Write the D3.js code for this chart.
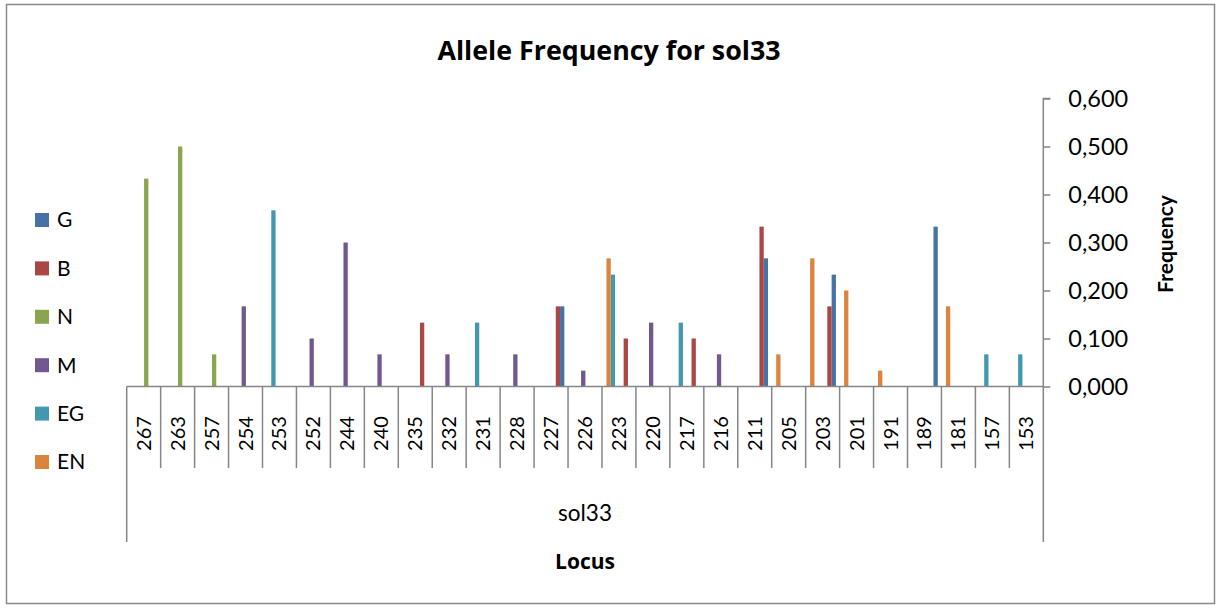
<!DOCTYPE html>
<html>
<head>
<meta charset="utf-8">
<script src="https://cdn.jsdelivr.net/npm/d3@7"></script>
<style>
  html, body { margin: 0; padding: 0; background: #fff; }
  svg { display: block; font-family: "Lato", "Open Sans", sans-serif; }
</style>
</head>
<body>
<svg id="chart" width="1222" height="608"></svg>
<script>
// Allele sizes at the sol33 locus, in the order they appear along the axis
const alleles = ["267","263","257","254","253","252","244","240","235","232","231","228","227",
                 "226","223","220","217","216","211","205","203","201","191","189","181","157","153"];

// Population names (legend order)
const populations = ["G", "B", "N", "M", "EG", "EN"];

// Frequency per allele for each population
const freqG  = [0,0,0,0,0,0,0,0,0,0,0,0,0.167,0,0,0,0,0,0.267,0,0.233,0,0,0.333,0,0,0];
const freqB  = [0,0,0,0,0,0,0,0,0.133,0,0,0,0.167,0,0.100,0,0.100,0,0.333,0,0.167,0,0,0,0,0,0];
const freqN  = [0.433,0.500,0.067,0,0,0,0,0,0,0,0,0,0,0,0,0,0,0,0,0,0,0,0,0,0,0,0];
const freqM  = [0,0,0,0.167,0,0.100,0.300,0.067,0,0.067,0,0.067,0,0.033,0,0.133,0,0.067,0,0,0,0,0,0,0,0,0];
const freqEG = [0,0,0,0,0.367,0,0,0,0,0,0.133,0,0,0,0.233,0,0.133,0,0,0,0,0,0,0,0,0.067,0.067];
const freqEN = [0,0,0,0,0,0,0,0,0,0,0,0,0,0,0.267,0,0,0,0,0.067,0.267,0.200,0.033,0,0.167,0,0];

// Frequency axis ticks
const yTicks = [0, 0.1, 0.2, 0.3, 0.4, 0.5, 0.6];

const seriesValues = { G: freqG, B: freqB, N: freqN, M: freqM, EG: freqEG, EN: freqEN };
const colors = { G: "#4672A8", B: "#AA4643", N: "#89A54E", M: "#71588F", EG: "#4198AF", EN: "#DB843D" };

const svg = d3.select("#chart");
const axisColor = "#868686";

// Outer chart frame
svg.append("rect")
  .attr("x", 6.5).attr("y", 4.5).attr("width", 1208).attr("height", 599)
  .attr("fill", "#fff").attr("stroke", "#8a8a8a").attr("stroke-width", 1.5);

// Plot geometry
const plotLeft = 126.7, plotRight = 1043.3, plotTop = 98.5, plotBottom = 386.5;

const x = d3.scaleBand().domain(alleles).range([plotLeft, plotRight]).paddingInner(0).paddingOuter(0);
const y = d3.scaleLinear().domain([0, 0.6]).range([plotBottom, plotTop]);

// Bars inside each group are laid out with the last series on the left
const slot = d3.scaleBand()
  .domain(populations.slice().reverse())
  .range([0, x.bandwidth()])
  .paddingInner(0)
  .paddingOuter(0.95);

// Bars
const records = [];
populations.forEach(p => {
  seriesValues[p].forEach((v, i) => {
    if (v > 0) records.push({ pop: p, allele: alleles[i], value: v });
  });
});

svg.append("g").selectAll("rect")
  .data(records)
  .join("rect")
  .attr("x", d => x(d.allele) + slot(d.pop) + 0.4)
  .attr("width", slot.bandwidth())
  .attr("y", d => y(d.value))
  .attr("height", d => y(0) - y(d.value))
  .attr("fill", d => colors[d.pop]);

// Right-hand frequency axis
const locale = d3.formatLocale({ decimal: ",", thousands: ".", grouping: [3], currency: ["", ""] });
const fmt = locale.format(".3f");

const yAxis = svg.append("g")
  .attr("transform", `translate(${plotRight},0)`)
  .call(d3.axisRight(y).tickValues(yTicks).tickFormat(fmt).tickSize(7).tickPadding(18));
yAxis.select(".domain").attr("stroke", axisColor).attr("stroke-width", 1.5)
  .attr("d", `M7,${plotTop}H0V${plotBottom}`);
yAxis.selectAll(".tick line").attr("stroke", axisColor).attr("stroke-width", 1.5);
yAxis.selectAll(".tick text")
  .attr("fill", "#000").attr("font-size", 23.5).attr("font-family", "Lato, sans-serif");

// Category axis: baseline, dividers and group box
const catAxis = svg.append("g");
catAxis.append("line")
  .attr("x1", plotLeft).attr("x2", plotRight).attr("y1", plotBottom).attr("y2", plotBottom)
  .attr("stroke", axisColor).attr("stroke-width", 1.5);

const boundaries = alleles.map(a => x(a)).concat([x(alleles[alleles.length - 1]) + x.bandwidth()]);
catAxis.selectAll("line.div")
  .data(boundaries)
  .join("line")
  .attr("class", "div")
  .attr("x1", d => d).attr("x2", d => d)
  .attr("y1", plotBottom)
  .attr("y2", (d, i) => (i === 0 || i === boundaries.length - 1) ? 542 : 468)
  .attr("stroke", axisColor).attr("stroke-width", 1.5);

// Allele labels, rotated
catAxis.selectAll("text.allele")
  .data(alleles)
  .join("text")
  .attr("class", "allele")
  .attr("transform", d => `translate(${x(d) + x.bandwidth() / 2},433.5) rotate(-90)`)
  .attr("text-anchor", "middle")
  .attr("dy", "0.35em")
  .attr("font-size", 20)
  .attr("fill", "#000")
  .text(d => d);

// Locus group label
svg.append("text")
  .attr("x", 585).attr("y", 513)
  .attr("text-anchor", "middle").attr("dy", "0.35em")
  .attr("font-size", 22.5).attr("fill", "#000")
  .text("sol33");

// Axis titles
svg.append("text")
  .attr("x", 585).attr("y", 562)
  .attr("text-anchor", "middle").attr("dy", "0.35em")
  .attr("font-size", 21).attr("font-weight", "bold").attr("fill", "#000")
  .attr("font-family", "'Open Sans', sans-serif")
  .text("Locus");

svg.append("text")
  .attr("transform", "translate(1166,244) rotate(-90)")
  .attr("text-anchor", "middle").attr("dy", "0.35em")
  .attr("font-size", 21).attr("font-weight", "bold").attr("fill", "#000")
  .text("Frequency");

// Chart title
svg.append("text")
  .attr("x", 609).attr("y", 51)
  .attr("text-anchor", "middle").attr("dy", "0.35em")
  .attr("font-size", 26.8).attr("font-weight", "bold").attr("fill", "#000")
  .attr("font-family", "'Open Sans', sans-serif")
  .text("Allele Frequency for sol33");

// Legend
const legend = svg.append("g");
const rowY = d3.scalePoint().domain(populations).range([220, 462]);
const item = legend.selectAll("g")
  .data(populations)
  .join("g")
  .attr("transform", d => `translate(35,${rowY(d)})`);
item.append("rect")
  .attr("x", 0).attr("y", -7).attr("width", 14).attr("height", 14)
  .attr("fill", d => colors[d]);
item.append("text")
  .attr("x", 22).attr("dy", "0.35em")
  .attr("font-size", 21).attr("fill", "#000")
  .text(d => d);
</script>
</body>
</html>
